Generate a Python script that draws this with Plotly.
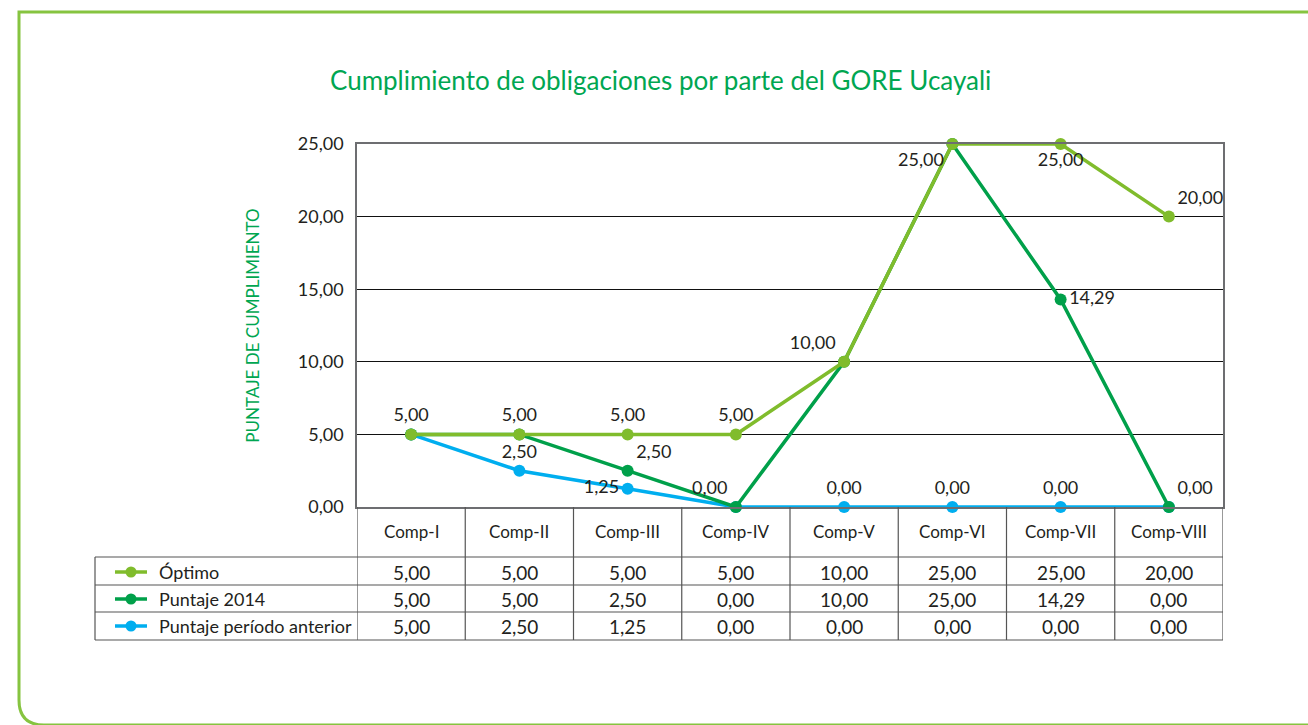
import plotly.graph_objects as go

# ---------------- data ----------------
categories = ["Comp-I", "Comp-II", "Comp-III", "Comp-IV", "Comp-V", "Comp-VI", "Comp-VII", "Comp-VIII"]
optimo = [5.00, 5.00, 5.00, 5.00, 10.00, 25.00, 25.00, 20.00]
puntaje_2014 = [5.00, 5.00, 2.50, 0.00, 10.00, 25.00, 14.29, 0.00]
puntaje_anterior = [5.00, 2.50, 1.25, 0.00, 0.00, 0.00, 0.00, 0.00]
series_names = ["Óptimo", "Puntaje 2014", "Puntaje período anterior"]
y_ticks = [0, 5, 10, 15, 20, 25]
title_text = "Cumplimiento de obligaciones por parte del GORE Ucayali"
y_title = "PUNTAJE DE CUMPLIMIENTO"

# which data labels are visible on the chart, and where
optimo_show = [1, 1, 1, 1, 1, 1, 1, 1]
optimo_pos = ["top center", "top center", "top center", "top center",
              "top left", "bottom left", "bottom center", "top right"]
p2014_show = [0, 0, 1, 1, 0, 0, 1, 1]
p2014_pos = ["top center", "top center", "top right", "top left",
             "top center", "top center", "middle right", "top right"]
pant_show = [0, 1, 1, 0, 1, 1, 1, 0]
pant_pos = ["top center", "top center", "middle left", "top center",
            "top center", "top center", "top center", "top center"]

# ---------------- styles ----------------
C_OPT = "#80bc2c"
C_2014 = "#00a04a"
C_ANT = "#00aeef"
C_TITLE = "#00a651"
C_FRAME = "#86c440"
C_TEXT = "#231f20"
FONT = "Lato, 'Open Sans', sans-serif"

W, H = 1308, 725


def px(x):
    return x / W


def py(y):
    return 1 - y / H


def fmt(v):
    return f"{v:.2f}".replace(".", ",")


fig = go.Figure()

series = [
    (series_names[2], puntaje_anterior, C_ANT, pant_show, pant_pos),
    (series_names[1], puntaje_2014, C_2014, p2014_show, p2014_pos),
    (series_names[0], optimo, C_OPT, optimo_show, optimo_pos),
]
for name, vals, col, show, pos in series:
    fig.add_trace(go.Scatter(
        x=categories, y=vals, name=name,
        mode="lines+markers+text",
        line=dict(color=col, width=3.5),
        marker=dict(color=col, size=12),
        text=[fmt(v) if s else "" for v, s in zip(vals, show)],
        textposition=pos,
        textfont=dict(family=FONT, size=18, color=C_TEXT),
        cliponaxis=False,
        showlegend=False,
    ))

X0, X1, Y0, Y1 = 357, 1223, 144, 507

fig.update_layout(
    width=W, height=H,
    margin=dict(l=0, r=0, t=0, b=0, pad=0, autoexpand=False),
    paper_bgcolor="white", plot_bgcolor="white",
    separators=",.",
    showlegend=False,
    font=dict(family=FONT, color=C_TEXT),
    xaxis=dict(domain=[px(X0), px(X1)], type="category", range=[-0.5, 7.5],
               automargin=False,
               showticklabels=False, showgrid=False, zeroline=False,
               showline=True, linecolor="#6d6e71", linewidth=1.5, mirror=True, ticks=""),
    yaxis=dict(domain=[py(Y1), py(Y0)], range=[0, 25], tickvals=y_ticks,
               automargin=False,
               tickformat=".2f", showgrid=True, gridcolor="#111111", gridwidth=1,
               zeroline=False, showline=True, linecolor="#6d6e71", linewidth=1.5,
               mirror=True, ticks="", tickfont=dict(size=18, family=FONT, color=C_TEXT),
               ticklabelstandoff=8,
               title=dict(text=y_title, font=dict(size=17, family=FONT, color=C_TITLE),
                          standoff=34)),
    hovermode=False,
)

ann = []
shapes = []

# title
ann.append(dict(text=title_text, x=px(660), y=py(80), xref="paper", yref="paper",
                showarrow=False, xanchor="center", yanchor="middle",
                font=dict(size=26, family=FONT, color=C_TITLE)))

# green frame (square top-left, rounded bottom-left)
fx, fy = px(19), py(12)
shapes.append(dict(type="path", xref="paper", yref="paper",
                   path=(f"M {px(1320)} {fy} L {fx} {fy} L {fx} {py(700)} "
                         f"Q {fx} {py(725)} {px(44)} {py(725)} L {px(1320)} {py(725)}"),
                   line=dict(color=C_FRAME, width=3)))

# ---------------- data table ----------------
TL = 95
row_lines = [557, 585, 612, 640]
row_centers = [572, 599, 626]
LINE_C = "#555555"

for yy in row_lines:
    shapes.append(dict(type="line", xref="paper", yref="paper",
                       x0=px(TL), x1=px(X1), y0=py(yy), y1=py(yy),
                       line=dict(color=LINE_C, width=1.2)))
# left border of legend column
shapes.append(dict(type="line", xref="paper", yref="paper",
                   x0=px(TL), x1=px(TL), y0=py(557), y1=py(640),
                   line=dict(color=LINE_C, width=1.2)))
# column boundaries (on category axis)
for k in range(len(categories) + 1):
    shapes.append(dict(type="line", xref="x", yref="paper",
                       x0=k - 0.5, x1=k - 0.5, y0=py(Y1), y1=py(640),
                       line=dict(color=LINE_C, width=1.2)))

# header
for c in categories:
    ann.append(dict(text=c, x=c, y=py(531), xref="x", yref="paper", showarrow=False,
                    xanchor="center", yanchor="middle",
                    font=dict(size=17, family=FONT, color=C_TEXT)))

# rows
table_rows = [(series_names[0], optimo, C_OPT),
              (series_names[1], puntaje_2014, C_2014),
              (series_names[2], puntaje_anterior, C_ANT)]
for (name, vals, col), yc in zip(table_rows, row_centers):
    shapes.append(dict(type="line", xref="paper", yref="paper",
                       x0=px(115), x1=px(147), y0=py(yc), y1=py(yc),
                       line=dict(color=col, width=3.5)))
    shapes.append(dict(type="circle", xref="paper", yref="paper",
                       x0=px(125.5), x1=px(136.5), y0=py(yc + 5.5), y1=py(yc - 5.5),
                       fillcolor=col, line=dict(color=col, width=0)))
    ann.append(dict(text=name, x=px(157), y=py(yc), xref="paper", yref="paper",
                    showarrow=False, xanchor="left", yanchor="middle",
                    font=dict(size=18, family=FONT, color=C_TEXT)))
    for c, v in zip(categories, vals):
        ann.append(dict(text=fmt(v), x=c, y=py(yc), xref="x", yref="paper",
                        showarrow=False, xanchor="center", yanchor="middle",
                        font=dict(size=19, family=FONT, color=C_TEXT)))

fig.update_layout(annotations=ann, shapes=shapes)

post = (
    "document.documentElement.style.margin='0';"
    "document.documentElement.style.overflow='hidden';"
    "document.body.style.margin='0';"
    "document.body.style.overflow='hidden';"
    "var gd=document.getElementById('{plot_id}');"
    "gd.style.position='fixed';gd.style.left='0px';gd.style.top='0px';"
)
fig.write_html("out.html", config={"displayModeBar": False}, post_script=post)
